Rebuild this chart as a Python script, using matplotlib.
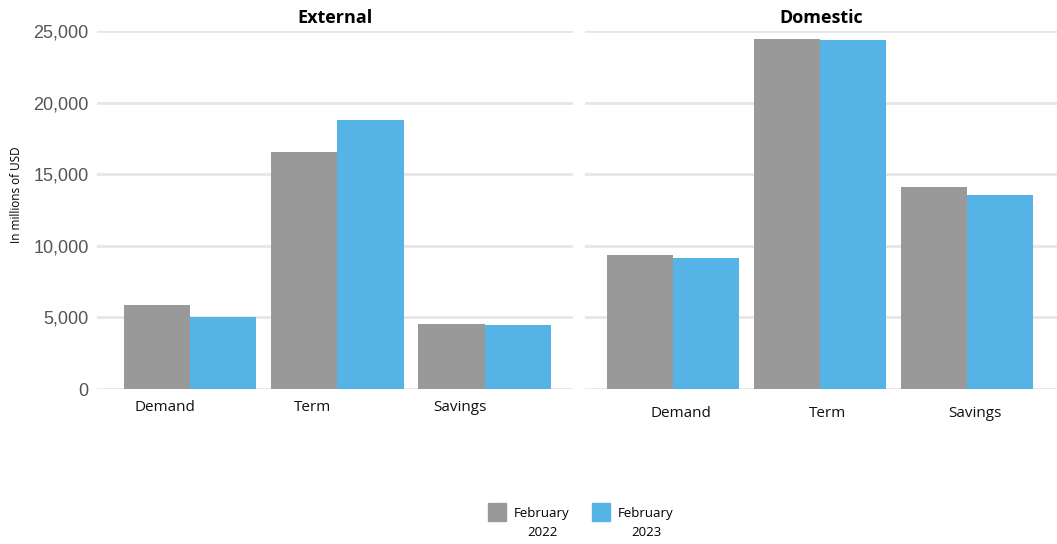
import numpy as np
import matplotlib
matplotlib.use("Agg")
import matplotlib.pyplot as plt
from matplotlib.patches import Rectangle
from matplotlib.ticker import FuncFormatter

categories = ['Demand', 'Term', 'Savings']
panels = ['External', 'Domestic']
series = ['February\n2022', 'February\n2023']

# in millions of USD
external_2022 = [5850, 16550, 4550]
external_2023 = [5050, 18800, 4500]
domestic_2022 = [9350, 24420, 14080]
domestic_2023 = [9130, 24350, 13520]

yticks = [0, 5000, 10000, 15000, 20000, 25000]

grey = '#999999'
blue = '#56B3E6'
colors = [grey, blue]

fig = plt.figure(figsize=(10.57, 5.44), dpi=100)
ax1 = fig.add_axes([97 / 1057, 1 - 389 / 544, 476 / 1057, 358 / 544])
ax2 = fig.add_axes([585 / 1057, 1 - 389 / 544, 472 / 1057, 358 / 544])

data = [(external_2022, external_2023), (domestic_2022, domestic_2023)]
label_shift = [-0.17, 0.05]
label_pad = [8, 12]
xlims = [(-0.63, 2.6), (-0.6, 2.61)]

x = np.arange(len(categories))
w = 0.45
for ax, title, (a, b), shift, pad, xl in zip([ax1, ax2], panels, data, label_shift, label_pad, xlims):
    ax.bar(x - w / 2, a, width=w, color=grey, zorder=2)
    ax.bar(x + w / 2, b, width=w, color=blue, zorder=2)
    ax.set_xlim(*xl)
    ax.set_ylim(0, 25000)
    ax.set_yticks(yticks)
    ax.yaxis.grid(True, color='#e6e6e6', linewidth=2, zorder=0)
    ax.set_axisbelow(True)
    for s in ax.spines.values():
        s.set_visible(False)
    ax.tick_params(length=0)
    ax.set_xticks(x + shift)
    ax.set_xticklabels(categories, fontsize=11, family='Open Sans', color='#111111')
    ax.tick_params(axis='x', pad=pad)
    ax.set_title(title, fontsize=13, fontweight='bold', family='Open Sans', pad=6)

ax1.yaxis.set_major_formatter(FuncFormatter(lambda v, p: f'{int(v):,}'))
ax1.tick_params(axis='y', labelsize=13, labelcolor='#555555', pad=6)
for t in ax1.get_yticklabels():
    t.set_family('Liberation Sans')
ax2.set_yticklabels([])

fig.text(17 / 1057, 1 - 195 / 544, 'In millions of USD', rotation=90,
         ha='center', va='center', fontsize=8.5, family='Open Sans')

# legend drawn by hand so the squares line up with the first text line
for i, (lab, c) in enumerate(zip(series, colors)):
    x0 = 488 + i * 104
    fig.add_artist(Rectangle((x0 / 1057, 1 - 521 / 544), 18 / 1057, 18 / 544,
                             transform=fig.transFigure, color=c))
    fig.text((x0 + 54) / 1057, 1 - 523 / 544, lab, ha='center', va='center',
             multialignment='center', fontsize=9.5, family='Open Sans',
             linespacing=1.6)

fig.savefig('out.png', dpi=100)
